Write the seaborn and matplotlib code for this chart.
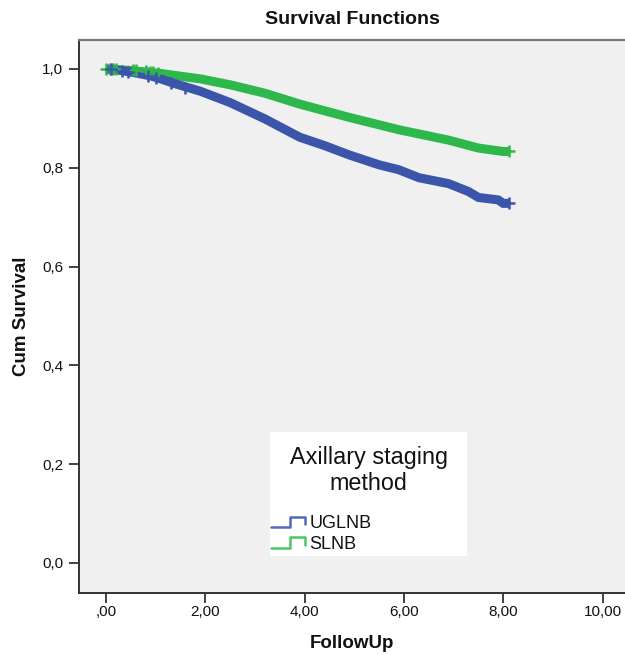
import numpy as np
import pandas as pd
import matplotlib
matplotlib.use("Agg")
import matplotlib.pyplot as plt
import seaborn as sns
from matplotlib.legend_handler import HandlerBase
from matplotlib.lines import Line2D
from matplotlib.patches import Rectangle
from matplotlib.ticker import FixedLocator

# ---- data ----
groups = ["UGLNB", "SLNB"]
ugl_time = [0.0, 0.3, 0.6, 0.9, 1.1, 1.4, 1.9, 2.5, 3.2, 3.9, 4.4, 4.9, 5.5, 5.9, 6.3, 6.9, 7.3, 7.5, 7.9, 8.0, 8.12]
ugl_surv = [1.0, 0.997, 0.992, 0.986, 0.980, 0.970, 0.955, 0.932, 0.899, 0.862, 0.845, 0.826, 0.806, 0.796, 0.780, 0.768, 0.752, 0.740, 0.735, 0.728, 0.728]
sln_time = [0.0, 0.5, 1.1, 1.9, 2.5, 3.2, 3.9, 4.9, 5.9, 6.9, 7.5, 8.0, 8.12]
sln_surv = [1.0, 0.997, 0.991, 0.980, 0.968, 0.951, 0.929, 0.902, 0.877, 0.856, 0.840, 0.833, 0.833]
# censored observations (early, sparse part of the curves)
ugl_cens_time = [0.1, 0.33, 0.45, 0.85, 1.0, 1.3, 1.6, 8.12]
ugl_cens_surv = [0.999, 0.996, 0.994, 0.986, 0.982, 0.972, 0.962, 0.728]
sln_cens_time = [0.0, 0.08, 0.15, 0.2, 0.55, 0.6, 0.8, 0.88, 0.95, 1.05, 8.12]
sln_cens_surv = [1.0, 1.0, 1.0, 0.999, 0.997, 0.997, 0.995, 0.994, 0.993, 0.992, 0.833]

x_ticks = [0, 2, 4, 6, 8, 10]
x_tick_labels = [",00", "2,00", "4,00", "6,00", "8,00", "10,00"]
y_ticks = [0.0, 0.2, 0.4, 0.6, 0.8, 1.0]
y_tick_labels = ["0,0", "0,2", "0,4", "0,6", "0,8", "1,0"]

colors = {"UGLNB": "#3b55aa", "SLNB": "#2eb84b"}
legend_colors = {"UGLNB": "#5468bf", "SLNB": "#4cc765"}

curves = pd.concat([
    pd.DataFrame({"time": ugl_time, "surv": ugl_surv, "group": "UGLNB"}),
    pd.DataFrame({"time": sln_time, "surv": sln_surv, "group": "SLNB"}),
], ignore_index=True)
cens = pd.concat([
    pd.DataFrame({"time": ugl_cens_time, "surv": ugl_cens_surv, "group": "UGLNB"}),
    pd.DataFrame({"time": sln_cens_time, "surv": sln_cens_surv, "group": "SLNB"}),
], ignore_index=True)

sns.set_theme(style="white")
plt.rcParams["font.family"] = ["Liberation Sans", "DejaVu Sans"]

fig = plt.figure(figsize=(6.25, 6.55), dpi=100)
W, H = 625, 655
ax_l, ax_r, ax_t, ax_b = 78.5, 626, 40, 593
ax = fig.add_axes([ax_l / W, 1 - ax_b / H, (ax_r - ax_l) / W, (ax_b - ax_t) / H])
ax.set_facecolor("#f0f0f0")

for g in groups[::-1]:
    sub = curves[curves.group == g]
    sns.lineplot(data=sub, x="time", y="surv", color=colors[g], lw=6.5,
                 estimator=None, sort=False, ax=ax, legend=False,
                 solid_capstyle="butt", solid_joinstyle="miter")
for g in groups[::-1]:
    sub = cens[cens.group == g]
    sns.scatterplot(data=sub, x="time", y="surv", color=colors[g], marker="+",
                    s=75, linewidth=1.8, ax=ax, legend=False, zorder=3)

x_px = 49.65
ax.set_xlim((ax_l - 106) / x_px, (ax_r - 106) / x_px)
y_px = 494.0
ax.set_ylim(-(ax_b - 563) / y_px, 1 + (69 - ax_t) / y_px)

ax.xaxis.set_major_locator(FixedLocator(x_ticks))
ax.set_xticklabels(x_tick_labels)
ax.yaxis.set_major_locator(FixedLocator(y_ticks))
ax.set_yticklabels(y_tick_labels)
ax.tick_params(axis="both", which="major", direction="out", length=7, width=1.3,
               color="#333333", labelsize=11, labelcolor="#111111",
               bottom=True, left=True)
ax.tick_params(axis="x", pad=2)
ax.tick_params(axis="y", pad=4)

for s in ["left", "bottom"]:
    ax.spines[s].set_color("#333333")
    ax.spines[s].set_linewidth(1.4)
ax.spines["top"].set_color("#777777")
ax.spines["top"].set_linewidth(1.6)
ax.spines["right"].set_visible(False)

ax.set_xlabel("FollowUp", fontsize=13.5, fontweight="bold", labelpad=11, color="#111111")
ax.set_ylabel("Cum Survival", fontsize=13.5, fontweight="bold", labelpad=9, color="#111111")
fig.text(352 / W, 1 - 19 / H, "Survival Functions", ha="center", va="center",
         fontsize=14, fontweight="bold", color="#111111")


class StepHandler(HandlerBase):
    def create_artists(self, legend, orig_handle, xdescent, ydescent, width, height, fontsize, trans):
        x0, y0 = -xdescent, -ydescent
        shift = 0.72 * fontsize
        xa = x0 - shift
        tot = width + shift
        xs = [xa, xa + 0.55 * tot, xa + 0.55 * tot, xa + tot, xa + tot]
        ys = [y0 + 0.1 * height, y0 + 0.1 * height, y0 + 0.85 * height, y0 + 0.85 * height, y0 + 0.3 * height]
        ln = Line2D(xs, ys, color=orig_handle.get_color(), lw=1.8, transform=trans)
        return [ln]


# white legend panel
bx0 = (270 - ax_l) / (ax_r - ax_l)
bx1 = (467 - ax_l) / (ax_r - ax_l)
by1 = (ax_b - 432) / (ax_b - ax_t)
by0 = (ax_b - 556) / (ax_b - ax_t)
ax.add_patch(Rectangle((bx0, by0), bx1 - bx0, by1 - by0, transform=ax.transAxes,
                       facecolor="white", edgecolor="none", zorder=4.5))

handles = [Line2D([], [], color=legend_colors[g]) for g in groups]
leg = ax.legend(handles, groups, title="Axillary staging\nmethod",
                handler_map={Line2D: StepHandler()},
                loc="upper left", bbox_to_anchor=(bx0, by1 - 0.3, bx1 - bx0, 0.3), mode="expand",
                frameon=False, fontsize=13, title_fontsize=16.8, handlelength=1.2, handleheight=0.8,
                handletextpad=0.24, labelspacing=0.2, borderpad=0.75, borderaxespad=0)
leg.get_title().set_multialignment("center")
leg.get_title().set_color("#111111")
for t in leg.get_texts():
    t.set_color("#111111")
leg._legend_box.sep = 14
leg.set_zorder(5)

fig.savefig("out.png", dpi=100, facecolor="white")
